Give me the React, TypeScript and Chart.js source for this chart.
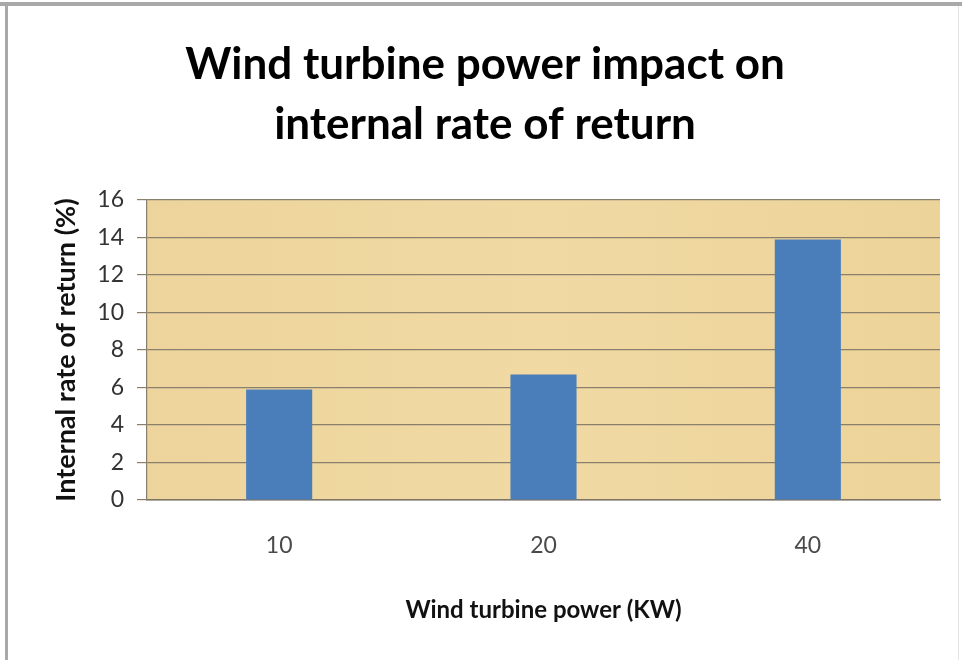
import React, { useEffect, useRef } from "react";
import { Chart, registerables } from "chart.js";

Chart.register(...registerables);

const titleLines = ["Wind turbine power impact on", "internal rate of return"];
const categories = ["10", "20", "40"];
const irrValues = [5.9, 6.7, 13.9];
const yMin = 0;
const yMax = 16;
const yStep = 2;
const xAxisTitle = "Wind turbine power (KW)";
const yAxisTitle = "Internal rate of return (%)";

const decorPlugin = {
  id: "decor",
  beforeDraw(chart: any) {
    const { ctx, chartArea, width, height } = chart;
    ctx.save();
    ctx.fillStyle = "#ffffff";
    ctx.fillRect(0, 0, width, height);
    // outer frame
    ctx.fillStyle = "#a9a9a9";
    ctx.fillRect(0, 2, width, 4);
    ctx.fillRect(5, 2, 3, height - 2);
    ctx.fillStyle = "#e4e4e4";
    ctx.fillRect(width - 4, 6, 1, height - 6);
    // plot background
    const g = ctx.createLinearGradient(chartArea.left, 0, chartArea.right, 0);
    g.addColorStop(0, "#edd49c");
    g.addColorStop(0.5, "#f0d9a3");
    g.addColorStop(1, "#ecd399");
    ctx.fillStyle = g;
    ctx.fillRect(chartArea.left, chartArea.top, chartArea.right - chartArea.left, chartArea.bottom - chartArea.top);
    ctx.restore();
  },
};

export default function App() {
  const ref = useRef<HTMLCanvasElement | null>(null);

  useEffect(() => {
    document.body.style.margin = "0";
    const canvas = ref.current;
    if (!canvas) return;
    const chart = new Chart(canvas, {
      type: "bar",
      data: {
        labels: categories,
        datasets: [
          {
            data: irrValues,
            backgroundColor: "#4a7ebb",
            borderWidth: 0,
            categoryPercentage: 0.25,
            barPercentage: 1,
          },
        ],
      },
      plugins: [decorPlugin],
      options: {
        responsive: false,
        animation: false,
        devicePixelRatio: 1,
        layout: { padding: { left: 30, right: 22, top: 0, bottom: 20 } },
        plugins: {
          legend: { display: false },
          tooltip: { enabled: false },
          title: {
            display: true,
            text: titleLines,
            color: "#000000",
            font: { family: "Lato", size: 44, weight: "bold", lineHeight: 1.364 },
            padding: { top: 35, bottom: 45 },
          },
        },
        scales: {
          x: {
            afterFit: (s: any) => {
              s.height = 140;
            },
            grid: { display: false, drawTicks: false },
            border: { display: true, color: "#7f7566", width: 1.5 },
            ticks: {
              color: "#4a4a4a",
              font: { family: "Lato", size: 23 },
              padding: 32,
            },
            title: {
              display: true,
              text: xAxisTitle,
              color: "#111111",
              font: { family: "Lato", size: 24, weight: "bold" },
              padding: { top: 4, bottom: 15 },
            },
          },
          y: {
            min: yMin,
            max: yMax,
            afterFit: (s: any) => {
              s.width = 117;
            },
            grid: {
              color: "#8a7f6c",
              lineWidth: 1.2,
              tickLength: 10,
              drawTicks: true,
            },
            border: { display: true, color: "#8a7f6c", width: 1.2 },
            ticks: {
              stepSize: yStep,
              color: "#333333",
              font: { family: "Lato", size: 23 },
              padding: 13,
            },
            title: {
              display: true,
              text: yAxisTitle,
              color: "#111111",
              font: { family: "Lato", size: 27, weight: "bold" },
              padding: { top: 20, bottom: 4 },
            },
          },
        },
      },
    });
    return () => chart.destroy();
  }, []);

  return (
    <div style={{ width: 962, height: 660 }}>
      <canvas ref={ref} width={962} height={660} style={{ display: "block" }} />
    </div>
  );
}
